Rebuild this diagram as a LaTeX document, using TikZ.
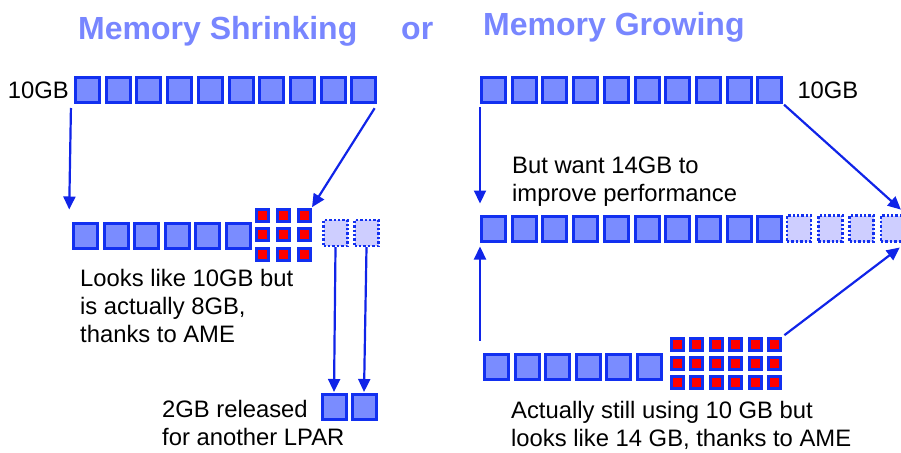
\documentclass[tikz,border=0pt]{standalone}
\usepackage{fontspec}
\setmainfont{Liberation Sans}
\usepackage{tikz}
\usetikzlibrary{arrows.meta}

\definecolor{memblue}{RGB}{18,48,240}
\definecolor{memfill}{RGB}{122,140,255}
\definecolor{freefill}{RGB}{206,206,255}
\definecolor{titleblue}{RGB}{120,134,255}
\definecolor{arrowblue}{RGB}{16,36,232}

\begin{document}
\begin{tikzpicture}[x=1pt, y=-1pt,
  mem/.style={draw=memblue, fill=memfill, line width=3pt, inner sep=0pt, minimum width=24pt, minimum height=25pt},
  free/.style={draw=memblue, fill=freefill, line width=2.4pt, dotted, inner sep=0pt, minimum width=24pt, minimum height=26pt},
  cell/.style={draw=memblue, fill=red, line width=3pt, inner sep=0pt, minimum size=12pt},
  arr/.style={draw=arrowblue, line width=2.2pt, -{Triangle[length=13pt,width=12pt]}},
  title/.style={text=titleblue, font=\fontsize{32}{36}\selectfont\bfseries, inner sep=0pt},
  note/.style={font=\fontsize{23.8}{28}\selectfont, align=left, inner sep=0pt, anchor=north west}]

\useasboundingbox (0,0) rectangle (901,452);

% titles
\node[title, anchor=base west] (tshrink) at (78,40) {Memory Shrinking};
\node[title, anchor=base west] (tor) at (401,40) {or};
\node[title, anchor=base west] (tgrow) at (483,36) {Memory Growing};

% left side: shrinking
\foreach \i in {1,...,10}
  \node[mem] (lt\i) at ({87.5+30.7*(\i-1)},90) {};
\foreach \i in {1,...,6}
  \node[mem] (lm\i) at ({85.5+30.6*(\i-1)},235.5) {};
\foreach \r/\y in {1/215.5,2/234.5,3/254}
  \foreach \c in {1,2,3}
    \node[cell] (lg\r\c) at ({262+21*(\c-1)},\y) {};
\node[free] (ld1) at (335.5,233) {};
\node[free] (ld2) at (366.5,233) {};
\node[mem] (lb1) at (334,407) {};
\node[mem] (lb2) at (364,407) {};

\node[font=\fontsize{23.8}{28}\selectfont, anchor=east, inner sep=0pt] (lsize) at ([xshift=-5pt]lt1.west) {10GB};
\node[note] (lnote) at (80,269) {Looks like 10GB but\\is actually 8GB,\\thanks to AME};
\node[note] (lfree) at (162,400) {2GB released\\for another LPAR};

\draw[arr, shorten <=4pt, shorten >=12pt] ([xshift=-3pt]lt1.south west) -- ([xshift=-3pt]lm1.north west);
\draw[arr, shorten <=5pt, shorten >=1pt] (lt10.south east) -- (lg13.north east);
\draw[arr, shorten >=1pt] (ld1.south) -- (lb1.north);
\draw[arr, shorten >=1pt] (ld2.south) -- (lb2.north);

% right side: growing
\foreach \i in {1,...,10}
  \node[mem] (rt\i) at ({493.5+30.7*(\i-1)},90) {};
\foreach \i in {1,...,10}
  \node[mem] (rm\i) at ({493.5+30.7*(\i-1)},228.5) {};
\foreach \i in {1,...,4}
  \node[free] (rd\i) at ({799+31.3*(\i-1)},228.5) {};
\foreach \i in {1,...,6}
  \node[mem] (rb\i) at ({496.5+30.6*(\i-1)},366.5) {};
\foreach \r/\y in {1/344.5,2/363.5,3/382.5}
  \foreach \c in {1,...,6}
    \node[cell] (rg\r\c) at ({677.5+19.4*(\c-1)},\y) {};

\node[font=\fontsize{23.8}{28}\selectfont, anchor=west, inner sep=0pt] (rsize) at ([xshift=14pt]rt10.east) {10GB};
\node[note] (rwant) at (512,157) {But want 14GB to\\improve performance};
\node[note] (rnote) at (511,401) {Actually still using 10 GB but\\looks like 14 GB, thanks to AME};

\draw[arr, shorten <=3pt, shorten >=11pt] (rt1.south west) -- (rm1.north west);
\draw[arr, shorten <=1pt, shorten >=7pt] (rt10.south east) -- (rd4.north east);
\draw[arr, shorten <=12pt, shorten >=4pt] ([xshift=-3pt]rb1.north west) -- (rm1.south west);
\draw[arr, shorten <=3pt, shorten >=8pt] (rg16.north east) -- (rd4.south east);

\end{tikzpicture}
\end{document}
